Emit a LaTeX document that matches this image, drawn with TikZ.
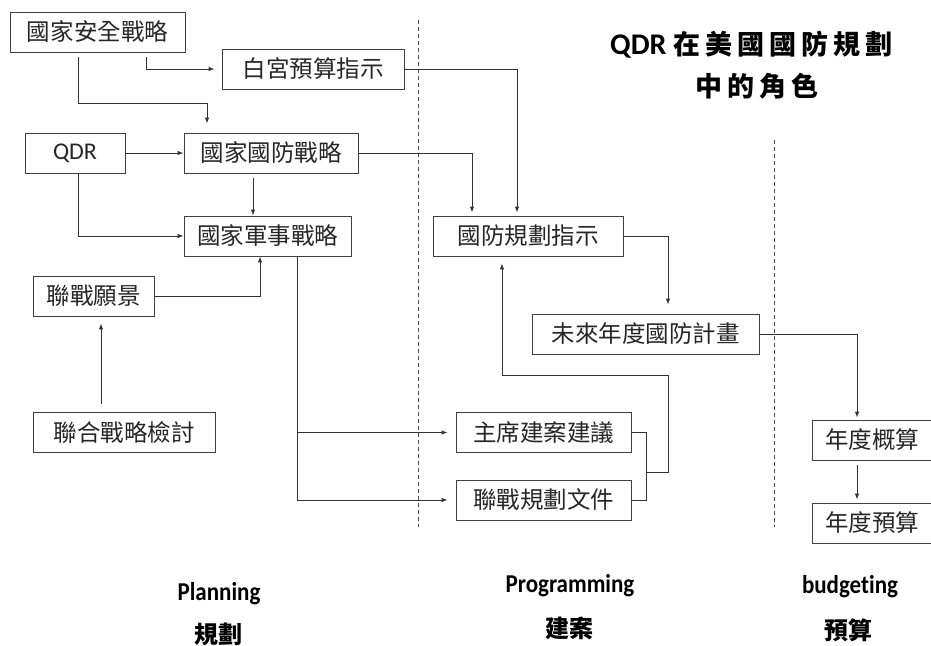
\documentclass[tikz,border=0pt]{standalone}
\usepackage{fontspec}
\usepackage{graphicx}
\setmainfont{Carlito}[Ligatures=NoCommon]
\newfontfamily\cjk{Noto Sans CJK TC}
\usetikzlibrary{arrows.meta}
\tikzset{
  box/.style={draw=black!75, line width=0.9pt, minimum height=40pt, inner sep=0pt,
    font=\cjk\fontsize{23.5}{26}\selectfont, text=black!85},
  arr/.style={draw=black!80, line width=0.9pt, -{Latex[length=6pt,width=4.5pt]}},
  link/.style={draw=black!80, line width=0.9pt},
  divider/.style={draw=black!70, line width=0.8pt, dash pattern=on 4pt off 3pt},
  lab/.style={font=\bfseries\fontsize{23}{26}\selectfont, anchor=base, inner sep=0pt},
  clab/.style={font=\cjk\bfseries\fontsize{24}{26}\selectfont, inner sep=0pt},
  ttl/.style={anchor=base west, inner sep=0pt},
}
\begin{document}
\begin{tikzpicture}[x=1pt,y=-1pt]
\useasboundingbox (0,0) rectangle (931,645);

% boxes
\node[box, minimum width=175pt] (nss) at (97.5,32) {國家安全戰略};
\node[box, minimum width=182pt] (wh) at (313,69) {白宮預算指示};
\node[box, minimum width=100pt, font=\fontsize{24}{26}\selectfont] (qdr) at (75,153) {QDR};
\node[box, minimum width=174pt] (nds) at (271,153) {國家國防戰略};
\node[box, minimum width=167pt] (nms) at (267.5,236) {國家軍事戰略};
\node[box, minimum width=121pt] (jv) at (93.5,296) {聯戰願景};
\node[box, minimum width=182pt] (jsr) at (124,432.5) {聯合戰略檢討};
\node[box, minimum width=190pt] (dpg) at (528,236) {國防規劃指示};
\node[box, minimum width=227pt] (fydp) at (645.5,334) {未來年度國防計畫};
\node[box, minimum width=175pt] (cpr) at (543.5,432.5) {主席建案建議};
\node[box, minimum width=175pt] (jpd) at (543.5,500) {聯戰規劃文件};
\node[box, minimum width=120pt] (abe) at (872,440) {年度概算};
\node[box, minimum width=120pt] (ab) at (872,523) {年度預算};

% dividers
\draw[divider] (418,20) -- (418,527);
\draw[divider] (774,140) -- (774,527);

% title
\node[ttl] (t1) at (610,54) {\bfseries\fontsize{30}{32}\selectfont QDR\hspace{7pt}{\cjk\fontsize{27}{29}\selectfont 在\hspace{5pt}美\hspace{5pt}國\hspace{5pt}國\hspace{5pt}防\hspace{5pt}規\hspace{5pt}劃}};
\node[ttl] (t2) at (695,96) {\cjk\bfseries\fontsize{27}{29}\selectfont 中\hspace{5pt}的\hspace{5pt}角\hspace{5pt}色};

% connectors
\draw[arr, shorten >=7pt] ([xshift=48.5pt,yshift=-5pt]nss.south) |- (wh.west);
\draw[arr, shorten >=9pt] ([xshift=-19.5pt,yshift=-5pt]nss.south) -- ++(0,46) -| ([xshift=-64pt]nds.north);
\draw[arr] (qdr) -- (nds);
\draw[arr] ([xshift=3pt]qdr.south) |- (nms.west);
\draw[arr] ([xshift=-18pt,yshift=-5pt]nds.south) -- ([xshift=-14.5pt]nms.north);
\draw[arr, shorten >=7pt] ([xshift=-23pt,yshift=8pt]jsr.north) -- ([xshift=7.5pt]jv.south);
\draw[arr] (jv.east) -| ([xshift=-7.5pt]nms.south);
\draw[arr, shorten >=8pt] ([xshift=29.5pt]nms.south) |- (cpr.west);
\draw[arr, shorten >=8pt] ([xshift=29.5pt]nms.south) |- (jpd.west);
\draw[link] (cpr.east) -- ++(15,0) |- (jpd.east);
\coordinate (fb) at (646,472);
\coordinate (fbc) at (668,375);
\draw[arr, shorten >=7pt] (fb) -| (fbc) -| ([xshift=-26pt]dpg.south);
\draw[arr, shorten >=3pt] (wh.east) -| ([xshift=-11pt]dpg.north);
\draw[arr, shorten >=3pt] (nds.east) -| ([xshift=-56pt]dpg.north);
\draw[arr, shorten >=9pt] (dpg.east) -| ([xshift=22.5pt]fydp.north);
\draw[arr, shorten >=2pt] (fydp.east) -| ([xshift=-15pt]abe.north);
\draw[arr, shorten >=3pt] ([xshift=-15pt,yshift=-5pt]abe.south) -- ([xshift=-15pt]ab.north);

% phase labels
\node[lab] (pl) at (219,600) {\scalebox{1}[1.12]{Planning}};
\node[clab] (plc) at (218,634) {規劃};
\node[lab] (pr) at (570,592) {\scalebox{1}[1.12]{Programming}};
\node[clab] (prc) at (569,628) {建案};
\node[lab] (bu) at (850,593) {\scalebox{1}[1.12]{budgeting}};
\node[clab] (buc) at (848,630) {預算};
\end{tikzpicture}
\end{document}
